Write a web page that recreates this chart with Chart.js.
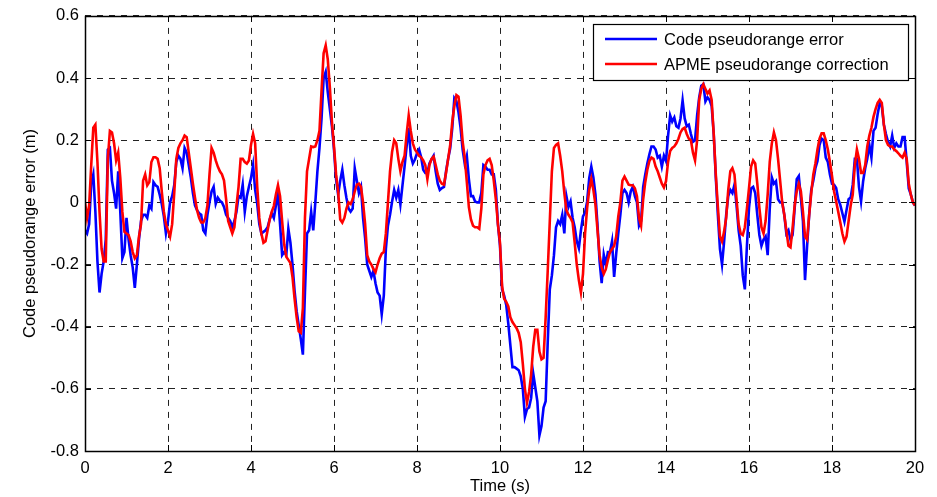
<!DOCTYPE html>
<html><head><meta charset="utf-8">
<script src="https://cdn.jsdelivr.net/npm/chart.js@4.4.1/dist/chart.umd.min.js"></script>
<style>html,body{margin:0;padding:0;background:#fff;}canvas{display:block}</style>
</head><body>
<canvas id="c" width="937" height="497"></canvas>
<script>
const timeS = [
0,0.05,0.1,0.15,0.2,0.25,0.3,0.35,0.4,0.45,0.5,0.55,0.6,0.65,0.7,0.75,0.8,0.85,0.9,0.95,
1,1.05,1.1,1.15,1.2,1.25,1.3,1.35,1.4,1.45,1.5,1.55,1.6,1.65,1.7,1.75,1.8,1.85,1.9,1.95,
2,2.05,2.1,2.15,2.2,2.25,2.3,2.35,2.4,2.45,2.5,2.55,2.6,2.65,2.7,2.75,2.8,2.85,2.9,2.95,
3,3.05,3.1,3.15,3.2,3.25,3.3,3.35,3.4,3.45,3.5,3.55,3.6,3.65,3.7,3.75,3.8,3.85,3.9,3.95,
4,4.05,4.1,4.15,4.2,4.25,4.3,4.35,4.4,4.45,4.5,4.55,4.6,4.65,4.7,4.75,4.8,4.85,4.9,4.95,
5,5.05,5.1,5.15,5.2,5.25,5.3,5.35,5.4,5.45,5.5,5.55,5.6,5.65,5.7,5.75,5.8,5.85,5.9,5.95,
6,6.05,6.1,6.15,6.2,6.25,6.3,6.35,6.4,6.45,6.5,6.55,6.6,6.65,6.7,6.75,6.8,6.85,6.9,6.95,
7,7.05,7.1,7.15,7.2,7.25,7.3,7.35,7.4,7.45,7.5,7.55,7.6,7.65,7.7,7.75,7.8,7.85,7.9,7.95,
8,8.05,8.1,8.15,8.2,8.25,8.3,8.35,8.4,8.45,8.5,8.55,8.6,8.65,8.7,8.75,8.8,8.85,8.9,8.95,
9,9.05,9.1,9.15,9.2,9.25,9.3,9.35,9.4,9.45,9.5,9.55,9.6,9.65,9.7,9.75,9.8,9.85,9.9,9.95,
10,10.05,10.1,10.15,10.2,10.25,10.3,10.35,10.4,10.45,10.5,10.55,10.6,10.65,10.7,10.75,10.8,10.85,10.9,10.95,
11,11.05,11.1,11.15,11.2,11.25,11.3,11.35,11.4,11.45,11.5,11.55,11.6,11.65,11.7,11.75,11.8,11.85,11.9,11.95,
12,12.05,12.1,12.15,12.2,12.25,12.3,12.35,12.4,12.45,12.5,12.55,12.6,12.65,12.7,12.75,12.8,12.85,12.9,12.95,
13,13.05,13.1,13.15,13.2,13.25,13.3,13.35,13.4,13.45,13.5,13.55,13.6,13.65,13.7,13.75,13.8,13.85,13.9,13.95,
14,14.05,14.1,14.15,14.2,14.25,14.3,14.35,14.4,14.45,14.5,14.55,14.6,14.65,14.7,14.75,14.8,14.85,14.9,14.95,
15,15.05,15.1,15.15,15.2,15.25,15.3,15.35,15.4,15.45,15.5,15.55,15.6,15.65,15.7,15.75,15.8,15.85,15.9,15.95,
16,16.05,16.1,16.15,16.2,16.25,16.3,16.35,16.4,16.45,16.5,16.55,16.6,16.65,16.7,16.75,16.8,16.85,16.9,16.95,
17,17.05,17.1,17.15,17.2,17.25,17.3,17.35,17.4,17.45,17.5,17.55,17.6,17.65,17.7,17.75,17.8,17.85,17.9,17.95,
18,18.05,18.1,18.15,18.2,18.25,18.3,18.35,18.4,18.45,18.5,18.55,18.6,18.65,18.7,18.75,18.8,18.85,18.9,18.95,
19,19.05,19.1,19.15,19.2,19.25,19.3,19.35,19.4,19.45,19.5,19.55,19.6,19.65,19.7,19.75,19.8,19.85,19.9,19.95,
20];

const codePseudorangeError = [
-0.09,-0.10,-0.07,0.06,0.09,-0.03,-0.19,-0.29,-0.23,-0.19,-0.12,0.17,0.175,0.07,0.03,-0.02,0.10,-0.03,-0.18,-0.16,
-0.05,-0.12,-0.17,-0.21,-0.275,-0.2,-0.12,-0.06,-0.04,-0.04,-0.05,-0.01,-0.02,0.065,0.055,0.05,0.025,-0.005,-0.045,-0.1,
-0.06,0.0,0.02,0.055,0.13,0.15,0.14,0.11,0.175,0.16,0.12,0.08,0.03,-0.01,-0.025,-0.035,-0.04,-0.09,-0.1,-0.04,
0.0,0.035,0.05,-0.005,0.015,0.005,0.0,-0.015,-0.04,-0.05,-0.06,-0.08,-0.06,-0.03,0.02,0.015,0.057,-0.03,0.02,0.05,
0.078,0.12,0.04,-0.005,-0.07,-0.1,-0.095,-0.09,-0.08,-0.055,-0.035,-0.05,-0.01,0.03,-0.07,-0.17,-0.16,-0.17,-0.085,-0.13,
-0.2,-0.285,-0.35,-0.395,-0.44,-0.49,-0.29,-0.1,-0.09,-0.03,-0.09,0.0,0.1,0.175,0.27,0.40,0.42,0.355,0.30,0.245,
0.17,0.075,0.025,0.07,0.105,0.055,0.014,-0.02,-0.03,-0.02,0.11,0.07,0.03,0.05,-0.05,-0.115,-0.2,-0.22,-0.24,-0.22,
-0.26,-0.29,-0.3,-0.36,-0.3,-0.15,-0.075,-0.04,0.003,0.04,0.015,0.04,-0.007,0.055,0.115,0.18,0.24,0.15,0.125,0.138,
0.158,0.17,0.145,0.105,0.095,0.095,0.125,0.138,0.15,0.1,0.06,0.04,0.046,0.05,0.1,0.14,0.174,0.24,0.335,0.325,
0.29,0.24,0.17,0.125,0.15,0.075,0.02,0.02,0.003,0.0,0.0,0.03,0.12,0.115,0.105,0.105,0.09,0.09,0.04,-0.07,
-0.14,-0.28,-0.3,-0.33,-0.39,-0.46,-0.53,-0.53,-0.535,-0.54,-0.56,-0.6,-0.69,-0.665,-0.66,-0.63,-0.55,-0.595,-0.64,-0.75,
-0.72,-0.66,-0.64,-0.45,-0.28,-0.235,-0.17,-0.08,-0.06,-0.07,-0.04,-0.1,0.02,-0.015,0.003,-0.05,-0.08,-0.125,-0.147,-0.09,
-0.045,-0.033,0.003,0.078,0.115,0.08,0.025,-0.075,-0.19,-0.26,-0.168,-0.2,-0.16,-0.16,-0.125,-0.24,-0.165,-0.1,-0.04,0.03,
0.04,0.03,0.0,0.035,0.05,0.02,0.0,-0.075,-0.06,0.05,0.09,0.125,0.155,0.18,0.18,0.17,0.144,0.15,0.115,0.15,
0.133,0.215,0.28,0.26,0.273,0.245,0.24,0.27,0.328,0.27,0.245,0.25,0.22,0.195,0.2,0.28,0.338,0.375,0.38,0.325,
0.338,0.33,0.31,0.22,0.08,-0.04,-0.15,-0.2,-0.126,-0.04,0.02,0.04,0.03,0.057,-0.01,-0.09,-0.14,-0.235,-0.28,-0.14,
-0.018,0.045,0.05,0.03,-0.04,-0.105,-0.14,-0.12,-0.11,-0.17,-0.02,0.08,0.06,0.068,0.01,0.0,0.0,-0.04,-0.1,-0.09,
-0.12,-0.105,-0.02,0.075,0.085,0.014,-0.06,-0.25,-0.14,-0.04,0.04,0.07,0.11,0.133,0.185,0.205,0.2,0.144,0.13,0.09,
0.06,0.057,0.046,0.01,-0.008,-0.035,-0.062,-0.025,0.01,0.016,0.057,0.14,0.14,0.05,0.003,0.068,0.11,0.14,0.185,0.144,
0.23,0.24,0.284,0.32,0.31,0.25,0.22,0.195,0.18,0.215,0.176,0.19,0.18,0.18,0.21,0.21,0.13,0.045,0.025,0.0,
-0.01];

const apmeCorrection = [
0.0,-0.05,-0.01,0.12,0.24,0.25,0.13,-0.03,-0.15,-0.19,-0.19,0.14,0.23,0.225,0.19,0.135,0.16,0.08,-0.03,-0.095,
-0.1,-0.105,-0.125,-0.16,-0.18,-0.17,-0.11,-0.07,0.07,0.09,0.055,0.065,0.13,0.145,0.145,0.14,0.11,0.035,-0.03,-0.07,
-0.09,-0.11,-0.07,0.03,0.14,0.175,0.19,0.2,0.215,0.21,0.16,0.11,0.06,0.015,-0.025,-0.05,-0.065,-0.065,-0.05,-0.01,
0.09,0.175,0.16,0.135,0.115,0.1,0.09,0.07,0.01,-0.06,-0.08,-0.1,-0.08,-0.01,0.05,0.14,0.14,0.13,0.125,0.135,
0.185,0.22,0.19,0.05,-0.05,-0.1,-0.13,-0.125,-0.09,-0.055,-0.03,-0.012,0.025,0.055,0.02,-0.06,-0.135,-0.175,-0.185,-0.195,
-0.24,-0.31,-0.37,-0.415,-0.42,-0.34,-0.05,0.1,0.14,0.18,0.178,0.18,0.2,0.23,0.36,0.48,0.505,0.46,0.37,0.26,
0.18,0.09,0.035,-0.055,-0.065,-0.05,-0.02,0.0,-0.005,0.01,0.035,0.057,0.06,0.05,0.0,-0.07,-0.17,-0.19,-0.2,-0.215,
-0.225,-0.2,-0.18,-0.165,-0.16,-0.1,0.0,0.1,0.163,0.2,0.19,0.14,0.1,0.13,0.15,0.22,0.28,0.23,0.19,0.17,
0.16,0.15,0.145,0.135,0.12,0.075,0.12,0.14,0.147,0.12,0.09,0.07,0.06,0.057,0.095,0.14,0.185,0.26,0.31,0.345,
0.34,0.28,0.195,0.145,0.067,-0.015,-0.055,-0.075,-0.08,-0.08,-0.085,-0.02,0.09,0.12,0.135,0.14,0.12,0.07,0.01,-0.07,
-0.13,-0.27,-0.31,-0.32,-0.335,-0.37,-0.385,-0.395,-0.405,-0.42,-0.45,-0.52,-0.6,-0.645,-0.61,-0.555,-0.465,-0.41,-0.41,-0.48,
-0.505,-0.5,-0.37,-0.22,-0.06,0.1,0.175,0.185,0.19,0.15,0.1,0.03,-0.025,-0.04,-0.05,-0.065,-0.13,-0.2,-0.25,-0.29,
-0.23,-0.1,-0.018,0.04,0.075,0.04,-0.007,-0.09,-0.17,-0.21,-0.23,-0.215,-0.185,-0.16,-0.15,-0.14,-0.11,-0.045,0.0,0.07,
0.083,0.07,0.057,0.055,0.055,0.045,0.02,-0.05,-0.075,0.01,0.065,0.105,0.133,0.144,0.14,0.115,0.1,0.08,0.06,0.048,
0.068,0.13,0.165,0.175,0.18,0.19,0.205,0.225,0.236,0.24,0.22,0.205,0.2,0.16,0.135,0.2,0.33,0.365,0.38,0.365,
0.35,0.36,0.33,0.22,0.09,-0.015,-0.11,-0.126,-0.094,-0.05,0.04,0.1,0.11,0.09,0.01,-0.07,-0.1,-0.105,-0.08,-0.02,
0.046,0.115,0.135,0.125,0.06,-0.018,-0.08,-0.1,-0.06,0.025,0.13,0.19,0.225,0.2,0.14,0.07,0.0,-0.04,-0.09,-0.14,
-0.145,-0.083,-0.01,0.035,0.06,0.036,-0.03,-0.11,-0.12,-0.04,0.03,0.09,0.125,0.17,0.205,0.222,0.222,0.2,0.17,0.13,
0.085,0.035,0.003,-0.03,-0.065,-0.1,-0.126,-0.11,-0.06,-0.01,0.025,0.12,0.17,0.14,0.095,0.095,0.12,0.18,0.215,0.24,
0.275,0.3,0.32,0.33,0.32,0.25,0.2,0.185,0.18,0.18,0.17,0.165,0.158,0.15,0.144,0.16,0.14,0.06,0.025,0.0,
-0.01];

const seriesNames = ['Code pseudorange error', 'APME pseudorange correction'];
const xTickValues = [0,2,4,6,8,10,12,14,16,18,20];
const xTickLabels = ['0','2','4','6','8','10','12','14','16','18','20'];
const yTickValues = [0.6,0.4,0.2,0,-0.2,-0.4,-0.6,-0.8];
const yTickLabels = ['0.6','0.4','0.2','0','-0.2','-0.4','-0.6','-0.8'];
const xTitle = 'Time (s)';
const yTitle = 'Code pseudorange error (m)';

const FONT = "'Liberation Sans', Arial, Helvetica, sans-serif";
const FS = 16.5;

function pts(vals){ return vals.map((v,i)=>({x: timeS[i], y: v})); }

const framePlugin = {
  id: 'matlabFrame',
  afterDatasetsDraw(chart){
    const {ctx, chartArea: a, scales} = chart;
    ctx.save();
    ctx.strokeStyle = '#000';
    ctx.lineWidth = 1;
    ctx.setLineDash([]);
    ctx.beginPath();
    const tl = 6;
    xTickValues.forEach(v=>{
      const x = Math.round(scales.x.getPixelForValue(v))+0.5;
      ctx.moveTo(x, a.bottom); ctx.lineTo(x, a.bottom - tl);
      ctx.moveTo(x, a.top); ctx.lineTo(x, a.top + tl);
    });
    yTickValues.forEach(v=>{
      const y = Math.round(scales.y.getPixelForValue(v))+0.5;
      ctx.moveTo(a.left, y); ctx.lineTo(a.left + tl, y);
      ctx.moveTo(a.right, y); ctx.lineTo(a.right - tl, y);
    });
    ctx.stroke();
    ctx.lineWidth = 1.5;
    ctx.strokeRect(Math.round(a.left)+0.5, Math.round(a.top)+0.5, Math.round(a.right-a.left), Math.round(a.bottom-a.top));
    // legend box
    const bx = 593, by = 24, bw = 315, bh = 56;
    ctx.fillStyle = '#fff';
    ctx.fillRect(bx, by, bw, bh);
    ctx.lineWidth = 1.2;
    ctx.strokeRect(bx+0.5, by+0.5, bw, bh);
    const order = [1, 0];
    ctx.font = FS + 'px ' + FONT;
    ctx.textBaseline = 'middle';
    ctx.textAlign = 'left';
    order.forEach((di, k)=>{
      const ds = chart.data.datasets[di];
      const y = by + 15 + k*25;
      ctx.strokeStyle = ds.borderColor;
      ctx.lineWidth = 2.6;
      ctx.beginPath(); ctx.moveTo(bx+12, y); ctx.lineTo(bx+64, y); ctx.stroke();
      ctx.fillStyle = '#000';
      ctx.fillText(ds.label, bx+71, y+1);
    });
    ctx.restore();
  }
};

new Chart(document.getElementById('c'), {
  type: 'line',
  data: {
    datasets: [
      { label: seriesNames[1], data: pts(apmeCorrection), borderColor: '#ff0000', borderWidth: 2.6, pointRadius: 0, tension: 0, fill: false, order: 0 },
      { label: seriesNames[0], data: pts(codePseudorangeError), borderColor: '#0000ff', borderWidth: 2.6, pointRadius: 0, tension: 0, fill: false, order: 1 }
    ]
  },
  options: {
    responsive: false,
    animation: false,
    devicePixelRatio: 1,
    parsing: true,
    layout: { padding: { top: 15, right: 22, left: 0, bottom: 0 } },
    plugins: { legend: { display: false }, tooltip: { enabled: false }, title: { display: false } },
    scales: {
      x: {
        type: 'linear', min: 0, max: 20,
        afterBuildTicks(s){ s.ticks = xTickValues.map(v=>({value: v})); },
        afterFit(s){ s.height = 46; },
        ticks: { autoSkip: false, maxRotation: 0, color: '#000', padding: 8,
          font: { family: FONT, size: FS },
          callback(v){ const i = xTickValues.indexOf(v); return i >= 0 ? xTickLabels[i] : ''; } },
        grid: { color: '#222', lineWidth: 1, drawTicks: false },
        border: { display: false, dash: [6, 6] },
        title: { display: true, text: xTitle, color: '#000', font: { family: FONT, size: FS }, padding: { top: 0, bottom: 1 } }
      },
      y: {
        type: 'linear', min: -0.8, max: 0.6,
        afterBuildTicks(s){ s.ticks = yTickValues.map(v=>({value: v})); },
        afterFit(s){ s.width = 85; },
        ticks: { autoSkip: false, color: '#000', padding: 6,
          font: { family: FONT, size: FS },
          callback(v){ const i = yTickValues.findIndex(t=>Math.abs(t-v)<1e-9); return i >= 0 ? yTickLabels[i] : ''; } },
        grid: { color: '#222', lineWidth: 1, drawTicks: false },
        border: { display: false, dash: [6, 6] },
        title: { display: true, text: yTitle, color: '#000', font: { family: FONT, size: FS }, padding: { top: 21, bottom: 0 } }
      }
    }
  },
  plugins: [framePlugin]
});
</script>
</body></html>
